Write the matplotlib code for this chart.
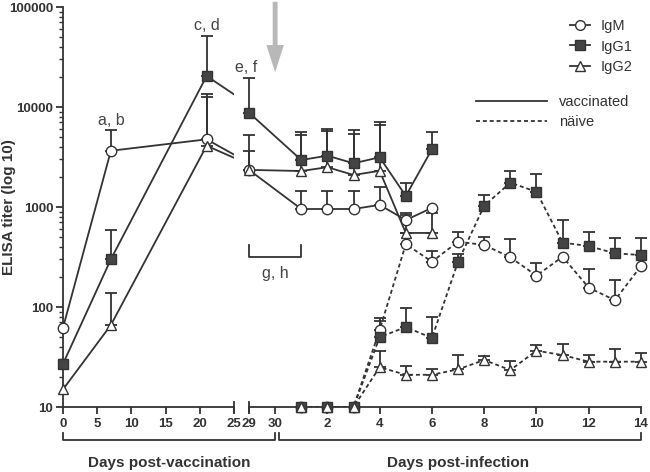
import numpy as np
import matplotlib
matplotlib.use("Agg")
import matplotlib.pyplot as plt
from matplotlib.lines import Line2D
from matplotlib.ticker import LogLocator, NullFormatter

plt.rcParams['font.family'] = ['Liberation Sans', 'DejaVu Sans']

#Data: vaccinated mice (days post-vaccination, then days post-infection)
vacc_days = [0, 7, 21, 29]
vacc_inf_days = [1, 2, 3, 4, 5, 6]
igm_vac = [62, 3650, 4750, 2350, 955, 955, 955, 1050, 740, 980]
igm_vac_hi = [62, 5900, 13500, 5300, 1450, 1450, 1450, 1600, 880, 980]
igg1_vac = [27, 300, 20400, 8770, 2950, 3260, 2735, 3140, 1290, 3780]
igg1_vac_hi = [27, 590, 51000, 19400, 5600, 6000, 5900, 7000, 1750, 5600]
igg2_vac = [15, 66, 4100, 2350, 2290, 2500, 2090, 2300, 550, 550]
igg2_vac_hi = [15, 137, 12500, 3600, 5300, 5700, 5350, 6600, 830, 865]

#Data: naive mice (days post-infection)
naive_days = list(range(1, 15))
igm_nai = [10, 10, 10, 59, 425, 284, 450, 417, 314, 206, 318, 156, 117, 257]
igm_nai_hi = [10, 10, 10, 77, 550, 363, 560, 497, 475, 278, 318, 238, 186, 257]
igg1_nai = [10, 10, 10, 50, 63, 49, 284, 1030, 1750, 1420, 440, 407, 344, 331]
igg1_nai_hi = [10, 10, 10, 72, 97, 79, 340, 1320, 2290, 2140, 740, 562, 493, 486]
igg2_nai = [10, 10, 10, 25, 21, 21, 23.8, 29.5, 23.4, 36.6, 33, 28.4, 28.4, 28.4]
igg2_nai_hi = [10, 10, 10, 36, 25.5, 24, 33, 32, 28.8, 42, 43, 33, 37.8, 35]

dark = '#333333'
styles = {'IgM': dict(marker='o', mfc='white', ms=7.5),
          'IgG1': dict(marker='s', mfc='#444444', ms=7),
          'IgG2': dict(marker='^', mfc='white', ms=7.5)}

fig = plt.figure(figsize=(6.5, 4.72), dpi=100)
ax1 = fig.add_axes([63/650, 1-407/472, 171/650, 400/472])
ax2 = fig.add_axes([249/650, 1-407/472, 392/650, 400/472])


def draw(ax, x, y, hi, name, ls, show):
    x = np.asarray(x, float)
    y = np.asarray(y, float)
    hi = np.asarray(hi, float)
    line = ax.plot(x, y, color=dark, lw=1.3, zorder=2)[0]
    if ls == 'dashed':
        line.set_dashes((2.2, 1.6))
    m = show & (hi > y)
    eb = ax.errorbar(x[m], y[m], yerr=[np.zeros(m.sum()), (hi - y)[m]], fmt='none',
                     ecolor=dark, elinewidth=1.3, capsize=4, capthick=1.3, zorder=3)
    for art in list(eb.lines[1]) + list(eb.lines[2]):
        art.set_clip_on(False)
    st = styles[name]
    ax.plot(x[show], y[show], ls='none', marker=st['marker'], mfc=st['mfc'],
            mec=dark, mew=1.0, ms=st['ms'], clip_on=False, zorder=4)


vac_series = [('IgM', igm_vac, igm_vac_hi), ('IgG1', igg1_vac, igg1_vac_hi),
              ('IgG2', igg2_vac, igg2_vac_hi)]
nai_series = [('IgM', igm_nai, igm_nai_hi), ('IgG1', igg1_nai, igg1_nai_hi),
              ('IgG2', igg2_nai, igg2_nai_hi)]

#Left part: days post-vaccination
x_left = np.array(vacc_days + [30 + d for d in vacc_inf_days])
for name, y, hi in vac_series:
    draw(ax1, x_left, y, hi, name, 'solid', x_left <= 25)

#Right part: days post-infection (day 30 post-vaccination = day 0)
x_right = x_left - 30
for name, y, hi in vac_series:
    draw(ax2, x_right, y, hi, name, 'solid', x_right >= -1)
for name, y, hi in nai_series:
    draw(ax2, naive_days, y, hi, name, 'dashed', np.ones(len(naive_days), bool))

for ax in (ax1, ax2):
    ax.set_yscale('log')
    ax.set_ylim(10, 100000)
    for s in ('top', 'right'):
        ax.spines[s].set_visible(False)
    ax.spines['bottom'].set_linewidth(1.3)
    ax.spines['bottom'].set_color(dark)
    ax.tick_params(axis='x', direction='out', length=5, width=1.3, color=dark,
                   labelsize=9.5, labelcolor=dark, pad=3)
    ax.patch.set_alpha(0)

ax1.set_xlim(0, 25)
ax1.set_xticks([0, 5, 10, 15, 20, 25])
ax1.spines['left'].set_linewidth(1.3)
ax1.spines['left'].set_color(dark)
ax1.yaxis.set_minor_locator(LogLocator(base=10, subs=np.arange(2, 10), numticks=10))
ax1.yaxis.set_minor_formatter(NullFormatter())
ax1.set_yticks([10, 100, 1000, 10000, 100000])
ax1.set_yticklabels(['10', '100', '1000', '10000', '100000'])
ax1.tick_params(axis='y', which='major', direction='out', length=5, width=1.3,
                color=dark, labelsize=9.5, labelcolor=dark, pad=2)
ax1.tick_params(axis='y', which='minor', direction='out', length=3, width=1.0, color=dark)
for lab in ax1.get_xticklabels() + ax1.get_yticklabels():
    lab.set_fontweight('bold')
ax1.set_ylabel('ELISA titer (log 10)', fontsize=11, fontweight='bold', color=dark)
ax1.yaxis.set_label_coords(-0.315, 0.5)
ax1.yaxis.label.set_va('center')
ax1.axvline(25, ymin=-0.012, ymax=0.012, color=dark, lw=1.3, clip_on=False)

ax2.set_xlim(-1, 14)
ax2.spines['left'].set_visible(False)
ax2.tick_params(axis='y', which='both', left=False, labelleft=False)
ax2.set_xticks([-1, 0, 2, 4, 6, 8, 10, 12, 14])
ax2.set_xticklabels(['29', '30', '2', '4', '6', '8', '10', '12', '14'])
for lab in ax2.get_xticklabels():
    lab.set_fontweight('bold')
ax2.axvline(-1, ymin=-0.012, ymax=0.012, color=dark, lw=1.3, clip_on=False)

#Annotations
ann = dict(ha='center', va='center', fontsize=11.5, color='#444444')
ax1.text(7, 7400, 'a, b', **ann)
ax1.text(21, 66000, 'c, d', **ann)
ax2.text(-1.1, 25000, 'e, f', **ann)
ax2.plot([-1, -1, 1, 1], [420, 316, 316, 420], color=dark, lw=1.3, clip_on=False)
ax2.text(0, 215, 'g, h', **ann)

#Infection arrow
ax2.annotate('', xy=(0, 0.83), xytext=(0, 1.02),
             xycoords=('data', 'axes fraction'), textcoords=('data', 'axes fraction'),
             arrowprops=dict(arrowstyle='simple,head_width=0.9,head_length=1.4,tail_width=0.25',
                             color='#b8b8b8', lw=0, mutation_scale=14))

#Brackets under the x-axis
inv = fig.transFigure.inverted()
xa = inv.transform(ax1.transData.transform((0, 10)))[0]
xb = inv.transform(ax2.transData.transform((0, 10)))[0]
xc = inv.transform(ax2.transData.transform((14, 10)))[0]
yb = 1 - 440/472
yt = 1 - 433/472
gap = 4/650
for l, r in ((xa, xb), (xb + gap, xc)):
    fig.add_artist(Line2D([l, l, r, r], [yt, yb, yb, yt], color=dark, lw=1.3))
fig.text((xa + xb)/2, 1 - 463/472, 'Days post-vaccination', ha='center', va='center',
         fontsize=11, fontweight='bold', color=dark)
fig.text((xb + xc)/2, 1 - 463/472, 'Days post-infection', ha='center', va='center',
         fontsize=11, fontweight='bold', color=dark)

#Legends
h1 = [Line2D([], [], color=dark, lw=1.3, marker=styles[n]['marker'], mfc=styles[n]['mfc'],
             mec=dark, ms=styles[n]['ms'] - 0.5) for n in ('IgM', 'IgG1', 'IgG2')]
fig.legend(h1, ['IgM', 'IgG1', 'IgG2'], loc='upper left',
           bbox_to_anchor=(570/650, 1 - 19/472), frameon=False, fontsize=10.5,
           handlelength=1.4, handletextpad=0.7, labelspacing=0.45,
           borderpad=0, borderaxespad=0, labelcolor=dark)
h2 = [Line2D([], [], color=dark, lw=1.3),
      Line2D([], [], color=dark, lw=1.3, dashes=(2.2, 1.6))]
fig.legend(h2, ['vaccinated', 'näive'], loc='upper left',
           bbox_to_anchor=(476/650, 1 - 95/472), frameon=False, fontsize=10.5,
           handlelength=4.9, handletextpad=0.8, labelspacing=0.4,
           borderpad=0, borderaxespad=0, labelcolor=dark)

fig.savefig('out.png', dpi=100)
